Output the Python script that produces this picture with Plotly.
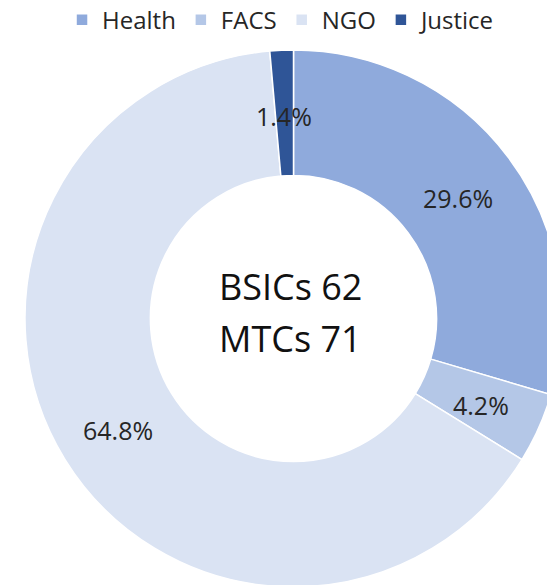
import math
import plotly.graph_objects as go

categories = ["Health", "FACS", "NGO", "Justice"]
counts = [21, 3, 46, 1]
colors = ["#8FAADC", "#B4C7E7", "#DAE3F3", "#2F5597"]
center_lines = ["BSICs 62", "MTCs 71"]

HOLE = 0.533
W, H = 562, 587
fig = go.Figure(go.Pie(
    labels=categories,
    values=counts,
    hole=HOLE,
    sort=False,
    direction="clockwise",
    rotation=0,
    marker=dict(colors=colors, line=dict(color="white", width=1.5)),
    textinfo="none",
    hoverinfo="label+value+percent",
))

# percentage labels at the middle of each ring segment (derived from the data)
total = sum(counts)
cum = 0
r_mid = 0.5 * (1 + HOLE) / 2
for c in counts:
    mid = (cum + c / 2) / total * 2 * math.pi
    cum += c
    fig.add_annotation(
        x=0.5 + r_mid * math.sin(mid), y=0.5 + r_mid * math.cos(mid),
        xref="paper", yref="paper", xanchor="center", yanchor="middle",
        text=f"{c / total * 100:.1f}%",
        showarrow=False, yshift=-3,
        font=dict(family="Open Sans", size=25, color="#262626"))

fig.add_annotation(x=0.5, y=0.5, xref="paper", yref="paper", text=center_lines[0],
                   xanchor="center", yanchor="middle",
                   showarrow=False, yshift=32, xshift=-3,
                   font=dict(family="Open Sans", size=36, color="#111111"))
fig.add_annotation(x=0.5, y=0.5, xref="paper", yref="paper", text=center_lines[1],
                   xanchor="center", yanchor="middle",
                   showarrow=False, yshift=-20, xshift=-3,
                   font=dict(family="Open Sans", size=36, color="#111111"))

fig.update_layout(
    width=W, height=H,
    margin=dict(l=25, r=0, t=50, b=0, autoexpand=False),
    paper_bgcolor="white",
    plot_bgcolor="white",
    legend=dict(orientation="h", x=0.4777, xanchor="center", y=1.0555, yanchor="middle",
                font=dict(family="Open Sans", size=24, color="#262626"),
                itemwidth=30, traceorder="normal"),
    showlegend=True,
)

fig.write_html(
    "out.html",
    config={"displayModeBar": False},
    post_script="document.body.style.margin='0';document.body.style.overflow='hidden';"
                "document.documentElement.style.overflow='hidden';",
)
